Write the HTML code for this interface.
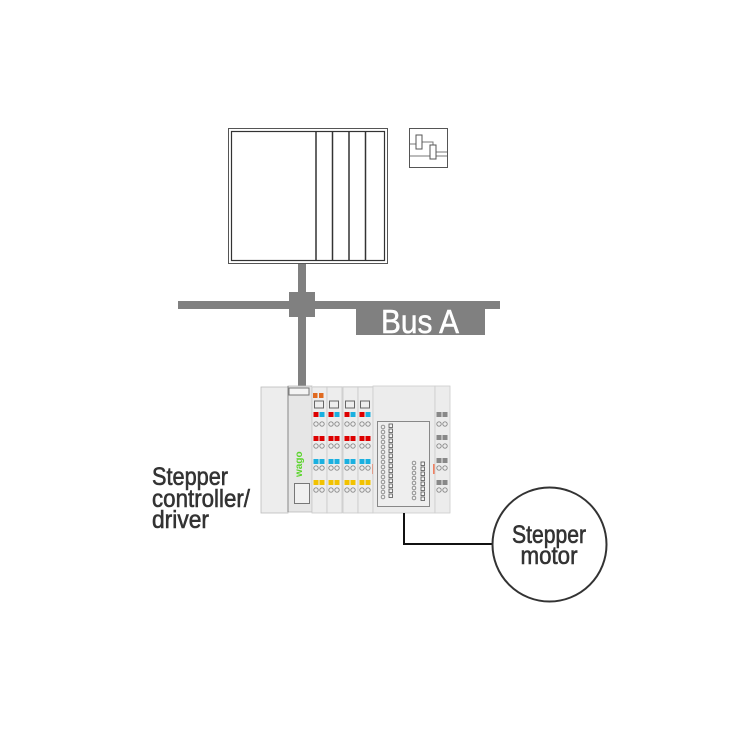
<!DOCTYPE html>
<html><head><meta charset="utf-8"><style>
html,body{margin:0;padding:0;background:#fff;width:750px;height:750px;overflow:hidden}
svg text{font-family:"Liberation Sans",sans-serif}
</style></head><body>
<svg width="750" height="750" viewBox="0 0 750 750" xmlns="http://www.w3.org/2000/svg">
<defs>
<g id="col">
  <rect x="0" y="0" width="15" height="126" fill="#ededed" stroke="#c8c8c8" stroke-width="0.8"/>
  <rect x="2.5" y="14" width="9" height="7" fill="#eee" stroke="#666" stroke-width="1"/>
  <rect x="1.5" y="25" width="5" height="5" fill="#d00"/><rect x="7.5" y="25" width="5" height="5" fill="#1ab0e0"/>
  <circle cx="4" cy="37" r="2.2" fill="none" stroke="#888" stroke-width="0.9"/><circle cx="10" cy="37" r="2.2" fill="none" stroke="#888" stroke-width="0.9"/>
  <rect x="1.5" y="49" width="5" height="5" fill="#d00"/><rect x="7.5" y="49" width="5" height="5" fill="#d00"/>
  <circle cx="4" cy="59" r="2.2" fill="none" stroke="#888" stroke-width="0.9"/><circle cx="10" cy="59" r="2.2" fill="none" stroke="#888" stroke-width="0.9"/>
  <rect x="1.5" y="72" width="5" height="5" fill="#1ab0e0"/><rect x="7.5" y="72" width="5" height="5" fill="#1ab0e0"/>
  <circle cx="4" cy="81" r="2.2" fill="none" stroke="#888" stroke-width="0.9"/><circle cx="10" cy="81" r="2.2" fill="none" stroke="#888" stroke-width="0.9"/>
  <rect x="1.5" y="93" width="5" height="5" fill="#f2c200"/><rect x="7.5" y="93" width="5" height="5" fill="#f2c200"/>
  <circle cx="4" cy="103" r="2.2" fill="none" stroke="#888" stroke-width="0.9"/><circle cx="10" cy="103" r="2.2" fill="none" stroke="#888" stroke-width="0.9"/>
</g>
</defs>

<rect x="228.5" y="128.5" width="159" height="135" fill="#fff" stroke="#555" stroke-width="1"/>
<rect x="231.5" y="131.5" width="153" height="129" fill="#fff" stroke="#333" stroke-width="1.2"/>
<line x1="316" y1="131" x2="316" y2="261" stroke="#333" stroke-width="1.5"/>
<line x1="332.5" y1="131" x2="332.5" y2="261" stroke="#333" stroke-width="1.5"/>
<line x1="349" y1="131" x2="349" y2="261" stroke="#333" stroke-width="1.5"/>
<line x1="365.5" y1="131" x2="365.5" y2="261" stroke="#333" stroke-width="1.5"/>

<rect x="409.5" y="128.5" width="38" height="39" fill="#fff" stroke="#555" stroke-width="1"/>
<path d="M410 144 H416 M410 156 H447 M422 142 H433 V145 M436 152 H447" fill="none" stroke="#777" stroke-width="1"/>
<rect x="416" y="135" width="6" height="14" fill="#fff" stroke="#555" stroke-width="1"/>
<rect x="430" y="145" width="6" height="14" fill="#fff" stroke="#555" stroke-width="1"/>

<rect x="298" y="264" width="8" height="127" fill="#808080"/>
<rect x="178" y="301" width="322" height="8" fill="#808080"/>
<rect x="289" y="292" width="26" height="25" fill="#808080"/>
<rect x="356" y="305" width="129" height="30" fill="#808080"/>
<text x="420" y="333" font-size="33" fill="#fff" stroke="#fff" stroke-width="0.5" text-anchor="middle" textLength="78" lengthAdjust="spacingAndGlyphs">Bus A</text>

<rect x="261" y="387" width="27" height="126" fill="#ededed" stroke="#bbb" stroke-width="0.8"/>
<rect x="288" y="386" width="24" height="126" fill="#e6e6e6" stroke="#bbb" stroke-width="0.8"/>
<line x1="288" y1="386" x2="288" y2="512" stroke="#888" stroke-width="1"/>
<rect x="289" y="388" width="20" height="7" fill="#f4f4f4" stroke="#777" stroke-width="1"/>
<rect x="294.5" y="483.5" width="15" height="20" fill="#f0f0f0" stroke="#777" stroke-width="1"/>
<text x="0" y="0" font-size="10" font-weight="bold" fill="#5ad42a" transform="translate(302,477) rotate(-90)">wago</text>
<rect x="312" y="386" width="61" height="127" fill="#ededed"/>
<use href="#col" x="312" y="387"/>
<use href="#col" x="327" y="387"/>
<use href="#col" x="343" y="387"/>
<use href="#col" x="358" y="387"/>
<rect x="313" y="393" width="4.5" height="5" fill="#e06a20"/><rect x="319" y="393" width="4.5" height="5" fill="#e06a20"/>
<rect x="372" y="464" width="2" height="10" fill="#f08060"/>
<rect x="373" y="386" width="62" height="127" fill="#ececec" stroke="#ccc" stroke-width="0.8"/>
<rect x="377.5" y="421.5" width="52" height="85" fill="#eeeeee" stroke="#888" stroke-width="1"/>
<g fill="none" stroke="#888" stroke-width="0.9">
<circle cx="383" cy="427" r="1.8"/><circle cx="383" cy="432" r="1.8"/><circle cx="383" cy="437" r="1.8"/><circle cx="383" cy="442" r="1.8"/><circle cx="383" cy="447" r="1.8"/><circle cx="383" cy="452" r="1.8"/><circle cx="383" cy="457" r="1.8"/><circle cx="383" cy="462" r="1.8"/><circle cx="383" cy="467" r="1.8"/><circle cx="383" cy="472" r="1.8"/><circle cx="383" cy="477" r="1.8"/><circle cx="383" cy="482" r="1.8"/><circle cx="383" cy="487" r="1.8"/><circle cx="383" cy="492" r="1.8"/><circle cx="383" cy="497" r="1.8"/>
<circle cx="414" cy="463" r="1.8"/><circle cx="414" cy="468" r="1.8"/><circle cx="414" cy="473" r="1.8"/><circle cx="414" cy="478" r="1.8"/><circle cx="414" cy="483" r="1.8"/><circle cx="414" cy="488" r="1.8"/><circle cx="414" cy="493" r="1.8"/><circle cx="414" cy="498" r="1.8"/>
</g>
<g fill="#f4f4f4" stroke="#555" stroke-width="0.8">
<rect x="389" y="424" width="3.5" height="3.5"/><rect x="389" y="429" width="3.5" height="3.5"/><rect x="389" y="434" width="3.5" height="3.5"/><rect x="389" y="439" width="3.5" height="3.5"/><rect x="389" y="444" width="3.5" height="3.5"/><rect x="389" y="449" width="3.5" height="3.5"/><rect x="389" y="454" width="3.5" height="3.5"/><rect x="389" y="459" width="3.5" height="3.5"/><rect x="389" y="464" width="3.5" height="3.5"/><rect x="389" y="469" width="3.5" height="3.5"/><rect x="389" y="474" width="3.5" height="3.5"/><rect x="389" y="479" width="3.5" height="3.5"/><rect x="389" y="484" width="3.5" height="3.5"/><rect x="389" y="489" width="3.5" height="3.5"/><rect x="389" y="494" width="3.5" height="3.5"/>
<rect x="421" y="462" width="3.5" height="3.5"/><rect x="421" y="467" width="3.5" height="3.5"/><rect x="421" y="472" width="3.5" height="3.5"/><rect x="421" y="477" width="3.5" height="3.5"/><rect x="421" y="482" width="3.5" height="3.5"/><rect x="421" y="487" width="3.5" height="3.5"/><rect x="421" y="492" width="3.5" height="3.5"/><rect x="421" y="497" width="3.5" height="3.5"/>
</g>
<rect x="433" y="464" width="2" height="10" fill="#f08060"/>
<rect x="435" y="386" width="15" height="127" fill="#ececec" stroke="#ccc" stroke-width="0.8"/>
<g fill="#888"><rect x="436.5" y="412" width="5" height="5"/><rect x="442.5" y="412" width="5" height="5"/><rect x="436.5" y="435" width="5" height="5"/><rect x="442.5" y="435" width="5" height="5"/><rect x="436.5" y="458" width="5" height="5"/><rect x="442.5" y="458" width="5" height="5"/><rect x="436.5" y="480" width="5" height="5"/><rect x="442.5" y="480" width="5" height="5"/></g>
<g fill="none" stroke="#888" stroke-width="0.9"><circle cx="439" cy="424" r="2.2"/><circle cx="445" cy="424" r="2.2"/><circle cx="439" cy="446" r="2.2"/><circle cx="445" cy="446" r="2.2"/><circle cx="439" cy="468" r="2.2"/><circle cx="445" cy="468" r="2.2"/><circle cx="439" cy="490" r="2.2"/><circle cx="445" cy="490" r="2.2"/></g>

<path d="M404 513 V544 H493" fill="none" stroke="#111" stroke-width="2"/>
<circle cx="549.5" cy="544.5" r="57" fill="#fff" stroke="#333" stroke-width="2"/>
<g font-size="25" fill="#333" stroke="#333" stroke-width="0.6">
<text x="549" y="543" text-anchor="middle" textLength="74" lengthAdjust="spacingAndGlyphs">Stepper</text>
<text x="549" y="564" text-anchor="middle" textLength="57" lengthAdjust="spacingAndGlyphs">motor</text>
<text x="152" y="485" textLength="76" lengthAdjust="spacingAndGlyphs">Stepper</text>
<text x="152" y="507" textLength="98" lengthAdjust="spacingAndGlyphs">controller/</text>
<text x="152" y="528" textLength="57" lengthAdjust="spacingAndGlyphs">driver</text>
</g>
</svg>
</body></html>
